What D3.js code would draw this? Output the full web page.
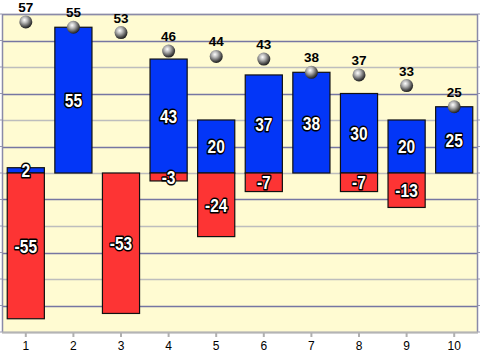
<!DOCTYPE html>
<html>
<head>
<meta charset="utf-8">
<script src="https://cdn.jsdelivr.net/npm/d3@7"></script>
<style>
  body { margin: 0; background: #fff; }
  svg { display: block; }
</style>
</head>
<body>
<svg id="chart" width="480" height="354"></svg>
<script>
// values
let categories = ["1", "2", "3", "4", "5", "6", "7", "8", "9", "10"];
let positives = [2, 55, 0, 43, 20, 37, 38, 30, 20, 25];
let negatives = [-55, 0, -53, -3, -24, -7, 0, -7, -13, 0];
let totals = [57, 55, 53, 46, 44, 43, 38, 37, 33, 25];
let yTicks = [-60, -50, -40, -30, -20, -10, 0, 10, 20, 30, 40, 50, 60];

let margin = { top: 14, right: 2, bottom: 22, left: 2 },
    width = 480 - margin.left - margin.right,
    height = 354 - margin.top - margin.bottom;

let svg = d3.select("#chart");

//#region gradients
let defs = svg.append("defs");
let ball = defs.append("radialGradient")
    .attr("id", "ball")
    .attr("cx", "40%").attr("cy", "35%").attr("r", "65%");
ball.append("stop").attr("offset", "0%").attr("stop-color", "#ffffff");
ball.append("stop").attr("offset", "35%").attr("stop-color", "#b8b8b8");
ball.append("stop").attr("offset", "80%").attr("stop-color", "#4a4a4a");
ball.append("stop").attr("offset", "100%").attr("stop-color", "#202020");
//#endregion

let g = svg.append("g").attr("transform", `translate(${margin.left},${margin.top})`);

let xscale = d3.scaleBand().domain(categories).range([0, width]).paddingInner(0.22).paddingOuter(0.11);
let yscale = d3.scaleLinear().domain([-60, 60]).range([height, 0]);

// plot background
g.append("rect")
    .attr("width", width).attr("height", height)
    .attr("fill", "#fffbd2");

// grid, alternating colours
g.append("g").selectAll("line")
    .data(yTicks)
    .join("line")
    .attr("x1", 0).attr("x2", width)
    .attr("y1", d => Math.round(yscale(d)) + 0.5)
    .attr("y2", d => Math.round(yscale(d)) + 0.5)
    .attr("stroke", d => (Math.abs(d) / 10) % 2 === 1 ? "#7676a2" : "#bdbdbd")
    .attr("stroke-width", 1.5);

// frame
g.append("path")
    .attr("d", `M0.5,${height}V0.5H${width - 0.5}V${height}`)
    .attr("fill", "none").attr("stroke", "#8a8aa8").attr("stroke-width", 1.5);
g.append("line")
    .attr("x1", 0).attr("x2", width)
    .attr("y1", height + 0.5).attr("y2", height + 0.5)
    .attr("stroke", "#b4b4b4").attr("stroke-width", 2);

// little ticks outside the frame
g.append("g").selectAll("line")
    .data(yTicks)
    .join("line")
    .attr("x1", width).attr("x2", width + 3)
    .attr("y1", d => yscale(d)).attr("y2", d => yscale(d))
    .attr("stroke", "#9a9ab0");
g.append("g").selectAll("line")
    .data(yTicks)
    .join("line")
    .attr("x1", -2).attr("x2", 0)
    .attr("y1", d => yscale(d)).attr("y2", d => yscale(d))
    .attr("stroke", "#9a9ab0");

// x axis
let xAxis = d3.axisBottom(xscale).tickSize(4).tickPadding(4);
let gx = g.append("g").attr("transform", `translate(0,${height + 1})`).call(xAxis);
gx.select(".domain").remove();
gx.selectAll(".tick line").attr("stroke", "#b0b0b0").attr("stroke-width", 2);
gx.selectAll(".tick text")
    .attr("fill", "#000")
    .style("font-family", "'Liberation Sans', Arial, sans-serif")
    .style("font-size", "12px");

//#region bars
let segs = [];
categories.forEach((c, i) => {
    if (positives[i] !== 0) segs.push({ cat: c, y0: 0, y1: positives[i], color: "#0336f7" });
    if (negatives[i] !== 0) segs.push({ cat: c, y0: negatives[i], y1: 0, color: "#fd3434" });
});

g.append("g").selectAll("rect")
    .data(segs)
    .join("rect")
    .attr("x", d => xscale(d.cat))
    .attr("width", xscale.bandwidth())
    .attr("y", d => yscale(d.y1))
    .attr("height", d => yscale(d.y0) - yscale(d.y1))
    .attr("fill", d => d.color)
    .attr("stroke", "#111")
    .attr("stroke-width", 1.2);

// narrow bold labels: squeeze horizontally
g.append("g").selectAll("text")
    .data(segs)
    .join("text")
    .attr("transform", d => `translate(${xscale(d.cat) + xscale.bandwidth() / 2},${(yscale(d.y0) + yscale(d.y1)) / 2}) scale(0.82,1)`)
    .attr("dy", "0.36em")
    .attr("text-anchor", "middle")
    .attr("fill", "#fff")
    .attr("stroke", "#000")
    .attr("stroke-width", 3)
    .attr("stroke-linejoin", "round")
    .attr("paint-order", "stroke")
    .style("font-family", "'Liberation Sans', Arial, sans-serif")
    .style("font-weight", "bold")
    .style("font-size", "19px")
    .text(d => d.y0 < 0 ? d.y0 : d.y1);
//#endregion

//#region total markers
let gDot = g.append("g");
gDot.selectAll("circle")
    .data(totals)
    .join("circle")
    .attr("cx", (d, i) => xscale(categories[i]) + xscale.bandwidth() / 2)
    .attr("cy", d => yscale(d))
    .attr("r", 6.5)
    .attr("fill", "url(#ball)");

gDot.selectAll("text")
    .data(totals)
    .join("text")
    .attr("x", (d, i) => xscale(categories[i]) + xscale.bandwidth() / 2)
    .attr("y", d => yscale(d) - 10)
    .attr("text-anchor", "middle")
    .attr("fill", "#000")
    .style("font-family", "'Liberation Sans', Arial, sans-serif")
    .style("font-weight", "bold")
    .style("font-size", "13.5px")
    .text(d => d);
//#endregion
</script>
</body>
</html>
